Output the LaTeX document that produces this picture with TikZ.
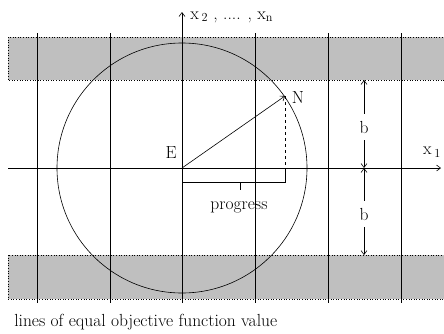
\documentclass[tikz,border=0pt]{standalone}
\usetikzlibrary{arrows.meta}

\begin{document}
\begin{tikzpicture}[x=1pt,y=-1pt,>={Straight Barb[length=4pt,width=6pt]},line width=0.6pt]
\tikzset{band/.style={draw=black,dotted,fill=black!25},
  lbl/.style={font=\fontsize{17.5}{20}\selectfont,inner sep=1pt},
  bnode/.style={font=\fontsize{17.5}{20}\selectfont,inner sep=7pt}}
\useasboundingbox (0,0) rectangle (444,333);
% feasible region boundaries
\path[band] (8,37) rectangle (446,80);
\path[band] (8,255) rectangle (446,299);
\foreach \x in {37,110,255,328,401} \draw (\x,33) -- (\x,303);
\coordinate (E0) at (182,168);
\draw (E0) circle (125);
% axes
\coordinate (yb) at (182,303);
\coordinate (yt) at (182,12);
\coordinate (xl) at (8,168);
\coordinate (xr) at (441,168);
\draw[->] (yb) -- (yt);
\draw[->] (xl) -- (xr);
\node[lbl,anchor=west] (xn) at (189,17) {x\,\textsubscript{2} , .... , x\textsubscript{n}};
\node[lbl] (x1) at (432,152) {x\,\textsubscript{1}};
% step and progress
\node[lbl] (E) at (171,153) {E};
\coordinate (N0) at (285,96);
\node[lbl] (N) at (298,98) {N};
\coordinate (Nf) at (285,168);
\coordinate (pr) at (285,182);
\coordinate (pl) at (182,182);
\coordinate (pt) at (240,182);
\coordinate (ptb) at (240,190);
\draw[->] (E0) -- (N0);
\draw[dashed] (N0) -- (Nf);
\draw (Nf) -- (pr) -- (pl);
\draw (pt) -- (ptb);
\node[lbl] (progress) at (239,207) {progress};
% width b of the region
\coordinate (bt) at (364,80);
\coordinate (bm) at (364,168);
\coordinate (bb) at (364,255);
\node[bnode] (b1) at (364,127) {b};
\node[bnode] (b2) at (364,214) {b};
\draw[->] (b1) -- (bt);
\draw[->] (b1) -- (bm);
\draw[->] (b2) -- (bm);
\draw[->] (b2) -- (bb);
\node[lbl,anchor=west] (caption) at (13,322) {lines of equal objective function value};
\end{tikzpicture}
\end{document}
